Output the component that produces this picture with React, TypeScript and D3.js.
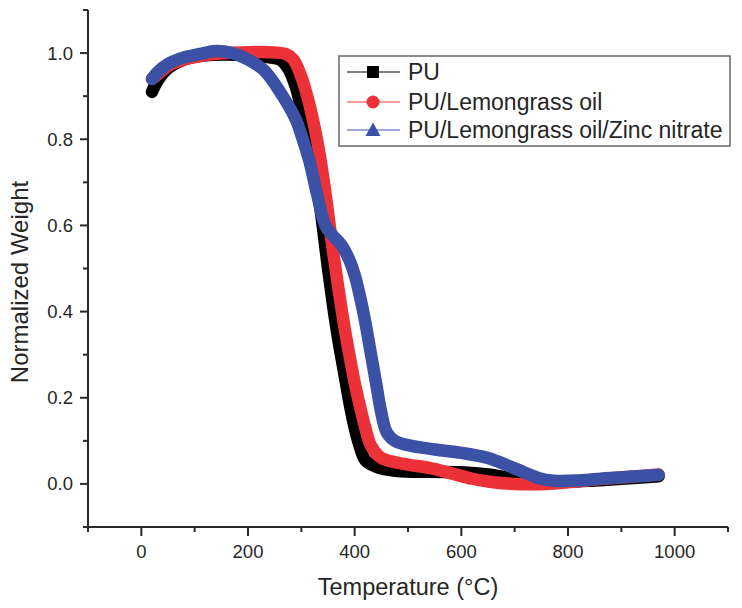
import React from 'react';
import * as d3 from 'd3';

// Temperature (°C) and normalized weight for each sample
const tempPU = [20, 30, 50, 80, 120, 160, 200, 240, 260, 275, 290, 300, 310, 320, 330, 340, 350, 360, 370, 380, 390, 400, 410, 420, 440, 480, 540, 600, 650, 700, 750, 800, 850, 900, 970];
const weightPU = [0.91, 0.935, 0.965, 0.985, 0.995, 0.997, 0.995, 0.99, 0.985, 0.965, 0.92, 0.87, 0.82, 0.76, 0.69, 0.6, 0.5, 0.41, 0.33, 0.26, 0.19, 0.13, 0.085, 0.055, 0.04, 0.03, 0.028, 0.027, 0.022, 0.012, 0.006, 0.005, 0.008, 0.012, 0.018];

const tempLG = [20, 30, 50, 80, 120, 160, 200, 240, 270, 285, 300, 310, 320, 330, 340, 350, 360, 370, 380, 390, 400, 410, 420, 430, 445, 460, 500, 540, 580, 620, 660, 700, 760, 800, 850, 900, 970];
const weightLG = [0.94, 0.95, 0.97, 0.985, 0.995, 1.0, 1.002, 1.002, 0.998, 0.985, 0.945, 0.905, 0.855, 0.795, 0.72, 0.63, 0.535, 0.45, 0.37, 0.3, 0.235, 0.18, 0.13, 0.09, 0.065, 0.055, 0.045, 0.037, 0.025, 0.012, 0.004, 0.0, 0.0, 0.004, 0.01, 0.015, 0.022];

const tempZN = [20, 30, 50, 80, 110, 140, 170, 200, 230, 260, 290, 300, 315, 330, 345, 360, 375, 390, 400, 410, 420, 430, 440, 450, 460, 475, 500, 550, 600, 650, 700, 750, 780, 820, 870, 920, 970];
const weightZN = [0.94, 0.955, 0.975, 0.99, 0.998, 1.005, 1.0, 0.985, 0.96, 0.91, 0.845, 0.81, 0.75, 0.67, 0.6, 0.575, 0.555, 0.52, 0.485, 0.435, 0.375, 0.305, 0.235, 0.165, 0.12, 0.1, 0.09, 0.08, 0.072, 0.06, 0.036, 0.012, 0.007, 0.008, 0.013, 0.017, 0.021];

const seriesNames = ['PU', 'PU/Lemongrass oil', 'PU/Lemongrass oil/Zinc nitrate'];
const seriesColors = ['#000000', '#ec3238', '#3a51a5'];
const legendLineColors = ['#555555', '#f07a80', '#7f8ccc'];
const seriesMarkers = ['square', 'circle', 'triangle'];

const xMajorTicks = [0, 200, 400, 600, 800, 1000];
const xMinorTicks = [-100, 100, 300, 500, 700, 900, 1100];
const yMajorTicks = [0.0, 0.2, 0.4, 0.6, 0.8, 1.0];
const yMinorTicks = [-0.1, 0.1, 0.3, 0.5, 0.7, 0.9, 1.1];

const xTitle = 'Temperature (°C)';
const yTitle = 'Normalized Weight';

export default function App() {
  const W = 742;
  const H = 608;
  const left = 88, right = 728, top = 10, bottom = 527;
  const x = d3.scaleLinear().domain([-100, 1100]).range([left, right]);
  const y = d3.scaleLinear().domain([-0.1, 1.1]).range([bottom, top]);

  const series = [
    { t: tempPU, w: weightPU },
    { t: tempLG, w: weightLG },
    { t: tempZN, w: weightZN },
  ];

  const line = d3
    .line<[number, number]>()
    .x((d) => x(d[0]))
    .y((d) => y(d[1]))
    .curve(d3.curveCatmullRom.alpha(0.5));

  const font = 'Arial, "Liberation Sans", Helvetica, sans-serif';
  const axisColor = '#2a2a2a';
  const textColor = '#262626';

  const legendX = 339, legendY = 56, legendW = 391, legendH = 90;
  const rowY = [72, 102, 130];

  const marker = (kind: string, cx: number, cy: number, color: string) => {
    if (kind === 'square') return <rect x={cx - 6} y={cy - 6} width={12} height={12} fill={color} />;
    if (kind === 'circle') return <circle cx={cx} cy={cy} r={6.5} fill={color} />;
    const s = 7.5;
    return <path d={`M${cx},${cy - s} L${cx + s},${cy + s * 0.8} L${cx - s},${cy + s * 0.8} Z`} fill={color} />;
  };

  return (
    <svg width={W} height={H} style={{ position: 'absolute', left: 0, top: 0, background: '#fff' }} fontFamily={font}>
      <rect x={0} y={0} width={W} height={H} fill="#ffffff" />
      {series.map((s, i) => (
        <path
          key={i}
          d={line(s.t.map((t, j) => [t, s.w[j]] as [number, number])) || ''}
          fill="none"
          stroke={seriesColors[i]}
          strokeWidth={12.5}
          strokeLinejoin="round"
          strokeLinecap="round"
        />
      ))}

      {/* axes */}
      <line x1={left} x2={left} y1={top} y2={bottom} stroke={axisColor} strokeWidth={2} />
      <line x1={left} x2={right} y1={bottom} y2={bottom} stroke={axisColor} strokeWidth={2} />
      {xMajorTicks.map((t) => (
        <g key={'xm' + t}>
          <line x1={x(t)} x2={x(t)} y1={bottom} y2={bottom + 9} stroke={axisColor} strokeWidth={2} />
          <text x={x(t)} y={558} textAnchor="middle" fontSize={18.5} fill={textColor}>
            {t}
          </text>
        </g>
      ))}
      {xMinorTicks.map((t) => (
        <line key={'xn' + t} x1={x(t)} x2={x(t)} y1={bottom} y2={bottom + 5} stroke={axisColor} strokeWidth={2} />
      ))}
      {yMajorTicks.map((t) => (
        <g key={'ym' + t}>
          <line x1={left - 8} x2={left} y1={y(t)} y2={y(t)} stroke={axisColor} strokeWidth={2} />
          <text x={73} y={y(t)} dy="0.35em" textAnchor="end" fontSize={18.5} fill={textColor}>
            {t.toFixed(1)}
          </text>
        </g>
      ))}
      {yMinorTicks.map((t) => (
        <line key={'yn' + t} x1={left - 5} x2={left} y1={y(t)} y2={y(t)} stroke={axisColor} strokeWidth={2} />
      ))}

      <text x={(left + right) / 2} y={595} textAnchor="middle" fontSize={23.5} fill={textColor}>
        {xTitle}
      </text>
      <text transform={`translate(28, ${282}) rotate(-90)`} textAnchor="middle" fontSize={24} fill={textColor}>
        {yTitle}
      </text>

      {/* legend */}
      <rect x={legendX} y={legendY} width={legendW} height={legendH} fill="#ffffff" stroke="#666" strokeWidth={1.5} />
      {seriesNames.map((name, i) => (
        <g key={name}>
          <line x1={347} x2={400} y1={rowY[i]} y2={rowY[i]} stroke={legendLineColors[i]} strokeWidth={1.5} />
          {marker(seriesMarkers[i], 373, rowY[i], seriesColors[i])}
          <text x={408} y={rowY[i]} dy="0.36em" fontSize={23} fill={textColor}>
            {name}
          </text>
        </g>
      ))}
    </svg>
  );
}
